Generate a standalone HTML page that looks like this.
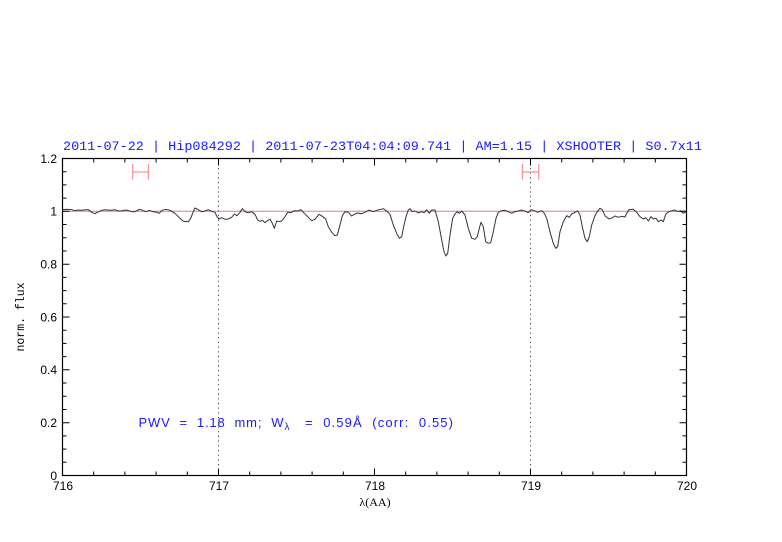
<!DOCTYPE html>
<html><head><meta charset="utf-8"><style>
html,body{margin:0;padding:0;background:#fff;}
svg{display:block;}
</style></head><body>
<svg width="782" height="542" viewBox="0 0 782 542" xmlns="http://www.w3.org/2000/svg">
<rect width="782" height="542" fill="#fff"/>
<!-- title -->
<text x="63" y="150" font-family="Liberation Mono, monospace" font-size="13" fill="#1a1aff" textLength="639" lengthAdjust="spacingAndGlyphs">2011-07-22 | Hip084292 | 2011-07-23T04:04:09.741 | AM=1.15 | XSHOOTER | S0.7x11</text>
<!-- reference line -->
<line x1="62.5" y1="211.3" x2="686.5" y2="211.3" stroke="#ff7070" stroke-width="1"/>
<!-- dotted verticals -->
<line x1="218.5" y1="158.5" x2="218.5" y2="475.5" stroke="#444" stroke-width="1" stroke-dasharray="1.2,3.5"/>
<line x1="530.5" y1="158.5" x2="530.5" y2="475.5" stroke="#444" stroke-width="1" stroke-dasharray="1.2,3.5"/>
<!-- error bars -->
<g stroke="#ff8c8c" stroke-width="1.2" fill="none">
<line x1="132.7" y1="172" x2="148.3" y2="172"/><line x1="132.7" y1="164" x2="132.7" y2="179.5"/><line x1="148.3" y1="164" x2="148.3" y2="179.5"/>
<line x1="522.3" y1="172" x2="538.7" y2="172"/><line x1="522.3" y1="164" x2="522.3" y2="179.5"/><line x1="538.7" y1="164" x2="538.7" y2="179.5"/>
</g>
<!-- spectrum -->
<polyline fill="none" stroke="#333" stroke-width="1" stroke-linejoin="round" points="
62.7,209.7 66.7,209.3 71.7,209.7 75,210.7 78.3,210 81.7,210.3 85,209.7 88.3,209.7 91.7,212.3 95,213.7 97.3,212.3 101.7,210.3 105,209.7 110,210.3 115,209.7 118.3,211 121.7,210.7 126.7,210 131.7,211.7 135,211.7 139.3,209.3 142.7,210.3 146,211.7 149.3,210.3 152.7,211.7 156,212 159.3,213.3 162,210.3 166,209.3 170,210.3 175,213.3 180,218.3 183.3,221.3 188.3,221.7 190.7,218.3 193.3,211.7 195,208 198.3,209.7 201.7,211.7 205,211 208.3,209.7 211.7,211.3 215,212.3 217,216.7 219,219 221.7,217.7 225,219.3 228.3,219 231.7,217.3 234.3,214 237,215.7 240,212.3 242.3,208.7 245.7,212 248.3,212.7 251.7,211.7 255,214.3 257.7,220 260,221.3 262.3,220.3 265,222.7 267.7,220.3 270,219.3 272.3,223.3 274.3,228.3 276.7,221 279,221.7 281.7,221 285,216.7 287.7,212.3 291,212.7 294.3,210.7 297.7,211 301,209.7 303.3,212.3 306.7,215.7 311.7,220.7 315,219.3 319,214.3 322.3,216.3 325.7,219 328.3,226.7 331.7,232.3 335,235.7 337.3,235 340,225 342.3,215.7 345,211.7 348.3,212.3 351.7,216 354.3,214.3 357.7,213 361.7,213.7 365,212.3 369,210 373.3,211.7 376.7,210.3 383.3,208.7 386.7,211 390,214.3 393.3,225 396.7,233.3 399.3,238.3 401.7,236.7 403.3,228.3 406,216.7 408.3,210 410,208.7 412.3,211.7 415,211 418.3,213 421.7,211.7 424,212.7 426.7,209.7 429.3,213.3 431.7,210 435,210 438.3,221.7 441.7,240 444,251.7 446,256 447.7,253.3 450,235 452.7,218.3 455,214 457.3,211.7 459.3,213.3 461.7,211 465,215 468.3,228.3 471.7,238.3 475,239.3 477.3,236.7 479.3,228.3 481,222.3 483.3,226.7 485.7,241.7 488.3,243.3 490.7,242.7 493.3,231.7 496,218.3 498.3,212.3 501.7,210.7 505,210.3 508.3,211.7 511.7,213.3 515,211.7 518.3,211 521.7,210 525,211.2 528.3,212.7 531,209.7 534.3,210.7 537.7,212.3 541.7,210.7 544.3,213.3 546.7,218.3 550,231.7 553.3,243.3 555.7,248.3 557.7,246.7 560,231.7 563.3,221.7 566.7,215.7 569.3,217.3 571.7,214 575,212.3 577.7,211 580,215 582.3,226.7 585,238.3 587.3,241.7 589.3,236.7 591.7,225 595,215.7 597.7,211 600,208.3 602.3,209.7 605,215.7 609,219 612.3,217.7 615,216 618.3,217.3 621.7,216.3 625,217 626.7,213.3 629,209.7 633.3,209.3 636.7,212.3 640,216.7 643.3,219 645.7,217.7 648.3,221 651,216.7 653.3,219 656,218.3 658.3,221.7 661,220 663.3,221.7 665.7,214.3 667.7,212.3 671,211 674.3,210 677.7,211.7 680.3,210.7 683.3,213.3 685.7,211.7"/>
<!-- frame -->
<rect x="62.5" y="158.5" width="624" height="317" fill="none" stroke="#000" stroke-width="1.2"/>
<!-- ticks -->
<g stroke="#000" stroke-width="1">
<path d="M62.5,475.5v-7M218.5,475.5v-7M374.5,475.5v-7M530.5,475.5v-7M686.5,475.5v-7
M62.5,158.5v7M218.5,158.5v7M374.5,158.5v7M530.5,158.5v7M686.5,158.5v7"/>
<path d="M93.7,475.5v-4M124.9,475.5v-4M156.1,475.5v-4M187.3,475.5v-4
M249.7,475.5v-4M280.9,475.5v-4M312.1,475.5v-4M343.3,475.5v-4
M405.7,475.5v-4M436.9,475.5v-4M468.1,475.5v-4M499.3,475.5v-4
M561.7,475.5v-4M592.9,475.5v-4M624.1,475.5v-4M655.3,475.5v-4
M93.7,158.5v4M124.9,158.5v4M156.1,158.5v4M187.3,158.5v4
M249.7,158.5v4M280.9,158.5v4M312.1,158.5v4M343.3,158.5v4
M405.7,158.5v4M436.9,158.5v4M468.1,158.5v4M499.3,158.5v4
M561.7,158.5v4M592.9,158.5v4M624.1,158.5v4M655.3,158.5v4"/>
<path d="M62.5,475.5h7M62.5,422.7h7M62.5,369.8h7M62.5,317h7M62.5,264.2h7M62.5,211.3h7M62.5,158.5h7
M686.5,475.5h-7M686.5,422.7h-7M686.5,369.8h-7M686.5,317h-7M686.5,264.2h-7M686.5,211.3h-7M686.5,158.5h-7"/>
<path d="M62.5,462.3h4M62.5,449.1h4M62.5,435.9h4M62.5,409.5h4M62.5,396.2h4M62.5,383h4M62.5,356.6h4M62.5,343.4h4M62.5,330.2h4M62.5,303.8h4M62.5,290.6h4M62.5,277.4h4M62.5,251h4M62.5,237.7h4M62.5,224.5h4M62.5,198.1h4M62.5,184.9h4M62.5,171.7h4
M686.5,462.3h-4M686.5,449.1h-4M686.5,435.9h-4M686.5,409.5h-4M686.5,396.2h-4M686.5,383h-4M686.5,356.6h-4M686.5,343.4h-4M686.5,330.2h-4M686.5,303.8h-4M686.5,290.6h-4M686.5,277.4h-4M686.5,251h-4M686.5,237.7h-4M686.5,224.5h-4M686.5,198.1h-4M686.5,184.9h-4M686.5,171.7h-4"/>
</g>
<!-- tick labels -->
<g font-family="Liberation Sans, sans-serif" font-size="12" fill="#000">
<g text-anchor="middle">
<text x="63" y="490">716</text><text x="219" y="490">717</text><text x="375" y="490">718</text><text x="531" y="490">719</text><text x="687" y="490">720</text>
</g>
<g text-anchor="end">
<text x="57" y="480">0</text><text x="57" y="427">0.2</text><text x="57" y="374">0.4</text><text x="57" y="321.5">0.6</text><text x="57" y="268.5">0.8</text><text x="57" y="215.5">1</text><text x="57" y="163">1.2</text>
</g>
<text x="375" y="506" text-anchor="middle" font-family="Liberation Serif, serif">λ(AA)</text>
<text transform="translate(24,317) rotate(-90)" text-anchor="middle" font-family="Liberation Mono, monospace" font-size="11.5">norm. flux</text>
</g>
<!-- PWV annotation -->
<g font-family="Liberation Sans, sans-serif" font-size="13" fill="#1a1aff">
<text x="138.5" y="427" textLength="145" lengthAdjust="spacing" xml:space="preserve">PWV  =  1.18  mm;  W</text>
<text x="284.5" y="430" font-size="10">λ</text>
<text x="305" y="427" textLength="148" lengthAdjust="spacing" xml:space="preserve">=  0.59Å  (corr:  0.55)</text>
</g>
</svg>
</body></html>
